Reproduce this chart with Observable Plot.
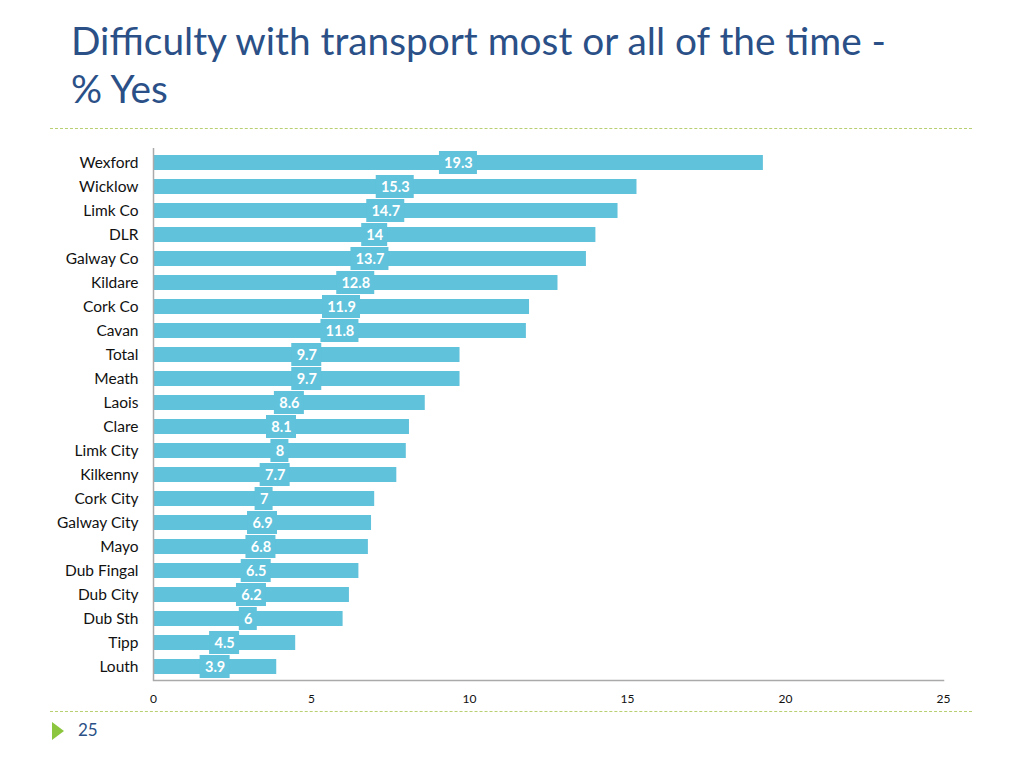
<!DOCTYPE html>
<html>
<head>
<meta charset="utf-8">
<script src="https://cdn.jsdelivr.net/npm/d3@7"></script>
<script src="https://cdn.jsdelivr.net/npm/@observablehq/plot@0.6"></script>
<style>
  html, body { margin: 0; padding: 0; background: #fff; }
  #page { position: relative; width: 1024px; height: 768px; overflow: hidden; font-family: Lato, "Open Sans", sans-serif; }
  #title { position: absolute; left: 71px; top: 16px; font-size: 38.8px; line-height: 48px; color: #2a5087; }
  .dash { position: absolute; left: 50px; width: 922px; border-top: 1.5px dashed #b8cf72; height: 0; }
  #tri { position: absolute; left: 52px; top: 722px; width: 0; height: 0; border-top: 9px solid transparent; border-bottom: 9px solid transparent; border-left: 12px solid #8cc63f; }
  #pnum { position: absolute; left: 78px; top: 719px; font-size: 17px; color: #2a5087; }
  #chart { position: absolute; left: 0; top: 0; }
</style>
</head>
<body>
<div id="page">
  <div id="chart"></div>
  <div id="title">Difficulty with transport most or all of the time -<br>% Yes</div>
  <div class="dash" style="top:128px"></div>
  <div class="dash" style="top:711px"></div>
  <div id="tri"></div>
  <div id="pnum">25</div>
</div>
<script>
const categories = ["Wexford","Wicklow","Limk Co","DLR","Galway Co","Kildare","Cork Co","Cavan","Total","Meath","Laois","Clare","Limk City","Kilkenny","Cork City","Galway City","Mayo","Dub Fingal","Dub City","Dub Sth","Tipp","Louth"];
const values = [19.3,15.3,14.7,14,13.7,12.8,11.9,11.8,9.7,9.7,8.6,8.1,8,7.7,7,6.9,6.8,6.5,6.2,6,4.5,3.9];
const xTicks = [0,5,10,15,20,25];

const data = categories.map((c, i) => ({cat: c, value: values[i], label: String(values[i])}));

const W = 1024, H = 768, mL = 153, mR = 81;
const pxPerUnit = (W - mL - mR) / 25;
const boxW = d => (10 + 8 * d.label.replace(/\./g, "").length + 4 * (d.label.includes(".") ? 1 : 0)) / pxPerUnit;

const barColor = "#60c2db";

const chart = Plot.plot({
  width: W,
  height: H,
  marginLeft: mL,
  marginRight: mR,
  marginTop: 148,
  marginBottom: 88,
  style: {fontFamily: "Lato, 'Open Sans', sans-serif", background: "transparent"},
  x: {domain: [0, 25], ticks: xTicks, tickSize: 0, tickPadding: 14, label: null},
  y: {domain: categories, paddingInner: 0.38, paddingOuter: 0.19, tickSize: 0, tickPadding: 15, label: null},
  marks: [
    Plot.barX(data, {y: "cat", x: "value", fill: barColor}),
    Plot.rect(data, {
      x1: d => d.value / 2 - boxW(d) / 2,
      x2: d => d.value / 2 + boxW(d) / 2,
      y: "cat",
      fill: barColor,
      insetTop: -4, insetBottom: -4
    }),
    Plot.text(data, {y: "cat", x: d => d.value / 2, text: "label", fill: "white", fontWeight: "bold", fontSize: 14.5}),
    Plot.ruleX([0], {stroke: "#aaa", strokeWidth: 1.5}),
    Plot.frame({anchor: "bottom", stroke: "#aaa", strokeWidth: 1.5})
  ]
});

d3.select(chart).selectAll("g[aria-label='y-axis tick label'] text, g[aria-label='y-axis'] text").style("font-size", "15.5px").style("font-weight", "400").attr("fill", "#111");
d3.select(chart).selectAll("g[aria-label='x-axis tick label'] text, g[aria-label='x-axis'] text").style("font-size", "12px").style("font-weight", "400").attr("fill", "#111");
document.getElementById("chart").appendChild(chart);
</script>
</body>
</html>
